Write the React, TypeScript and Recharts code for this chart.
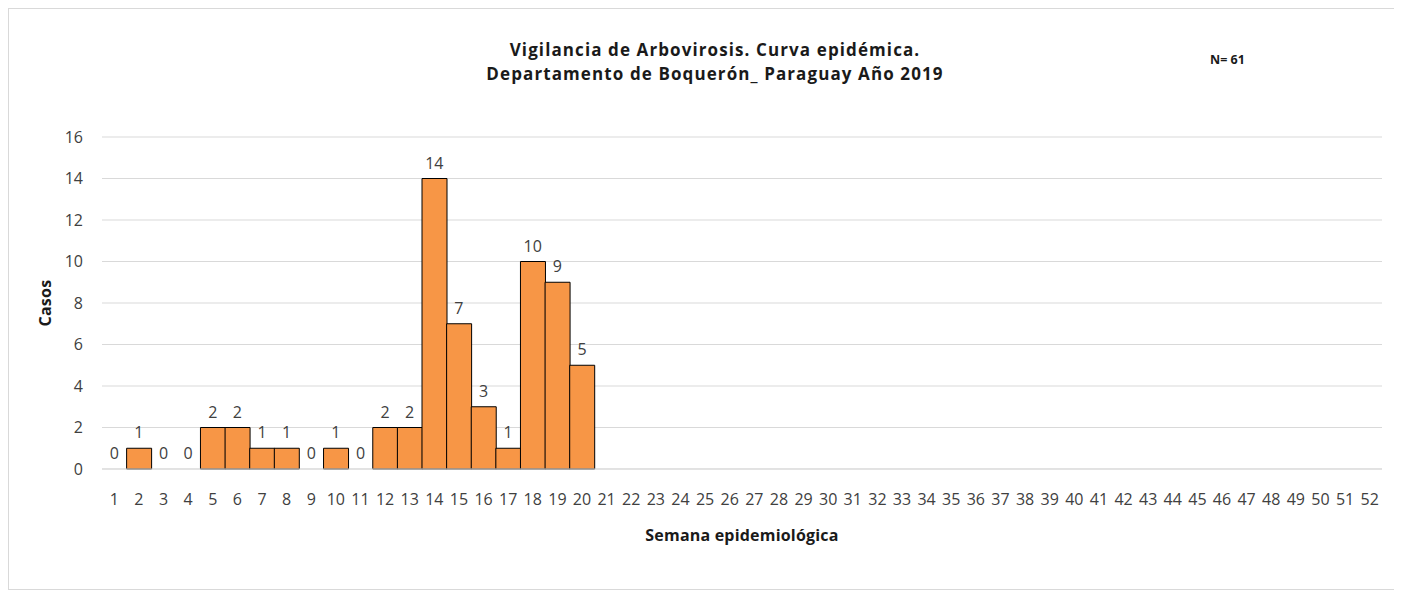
import React from "react";
import { ComposedChart, Bar, Line, XAxis, YAxis, CartesianGrid, LabelList } from "recharts";

// Epidemiological weeks 1..52
const weeks: number[] = Array.from({ length: 52 }, (_, i) => i + 1);

// Cases per week (only weeks 1-20 reported)
const cases: (number | null)[] = [
  0, 1, 0, 0, 2, 2, 1, 1, 0, 1,
  0, 2, 2, 14, 7, 3, 1, 10, 9, 5,
];

const yTicks: number[] = [0, 2, 4, 6, 8, 10, 12, 14, 16];

const titleLines: string[] = [
  "Vigilancia de Arbovirosis. Curva epidémica.",
  "Departamento de Boquerón_ Paraguay Año 2019",
];

const chartData = weeks.map((w, i) => ({
  week: String(w),
  cases: i < cases.length ? cases[i] : null,
}));

const FONT = "'Open Sans', 'Noto Sans', sans-serif";

export default function App() {
  return (
    <div
      style={{
        position: "relative",
        width: 1390,
        height: 582,
        border: "1px solid #d9d9d9",
        boxSizing: "border-box",
        background: "#fff",
        fontFamily: FONT,
      }}
    >
      <div
        style={{
          position: "absolute",
          left: 356,
          width: 700,
          top: 29,
          textAlign: "center",
          fontWeight: 700,
          fontSize: 17,
          lineHeight: "24px",
          color: "#1a1a1a",
          letterSpacing: 1.1,
        }}
      >
        {titleLines.map((t) => (
          <div key={t}>{t}</div>
        ))}
      </div>
      <div
        style={{
          position: "absolute",
          left: 1201,
          top: 42,
          fontWeight: 700,
          fontSize: 12.5,
          color: "#1a1a1a",
        }}
      >
        N= 61
      </div>
      <ComposedChart
        width={1388}
        height={580}
        data={chartData}
        barCategoryGap={0}
        margin={{ top: 128, right: 15, bottom: 40, left: 0 }}
      >
        <CartesianGrid vertical={false} stroke="#d9d9d9" />
        <XAxis
          dataKey="week"
          interval={0}
          tickLine={false}
          tickSize={0}
          tickMargin={25}
          axisLine={{ stroke: "#d9d9d9" }}
          height={80}
          tick={{ fontSize: 16, fill: "#404040", fontFamily: FONT }}
          label={{
            value: "Semana epidemiológica",
            position: "insideBottom",
            offset: 8,
            fontSize: 16,
            fontWeight: 700,
            fill: "#1a1a1a",
            fontFamily: FONT,
            style: { letterSpacing: 0.2 },
          }}
        />
        <YAxis
          width={93}
          domain={[0, 16]}
          ticks={yTicks}
          axisLine={false}
          tickLine={false}
          tickSize={0}
          tickMargin={19}
          tick={{ fontSize: 16, fill: "#404040", fontFamily: FONT }}
          label={{
            value: "Casos",
            angle: -90,
            position: "insideLeft",
            offset: 36,
            fontSize: 16,
            fontWeight: 700,
            fill: "#1a1a1a",
            fontFamily: FONT,
            style: { textAnchor: "middle", letterSpacing: 0.3 },
          }}
        />
        <Bar dataKey="cases" fill="#F79646" stroke="#000" strokeWidth={1} isAnimationActive={false} />
        {/* invisible line only to carry the data labels (also shows zeros) */}
        <Line
          dataKey="cases"
          stroke="none"
          dot={false}
          activeDot={false}
          legendType="none"
          isAnimationActive={false}
        >
          <LabelList
            dataKey="cases"
            position="top"
            offset={10}
            fill="#404040"
            fontSize={16}
            fontFamily={FONT}
          />
        </Line>
      </ComposedChart>
    </div>
  );
}
